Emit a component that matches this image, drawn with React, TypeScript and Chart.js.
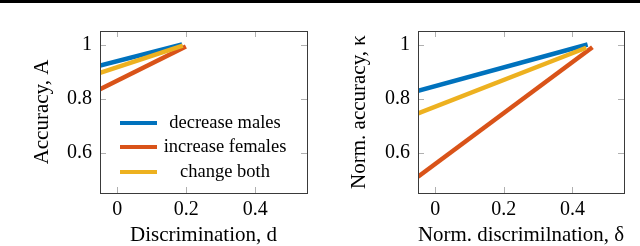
import React, { useEffect, useRef } from "react";
import { Chart, registerables } from "chart.js";
Chart.register(...registerables);

const seriesLabels = ["decrease males", "increase females", "change both"];
const seriesColors = ["#0072BD", "#D95319", "#EDB120"];
const xTickValues = [0, 0.2, 0.4];
const yTickValues = [0.6, 0.8, 1];

// Left panel: accuracy vs discrimination
const leftMalesX = [-0.05, 0.188];
const leftMalesY = [0.922, 1.0];
const leftFemalesX = [-0.05, 0.199];
const leftFemalesY = [0.834, 0.993];
const leftBothX = [-0.05, 0.19];
const leftBothY = [0.895, 0.996];

// Right panel: normalized accuracy vs normalized discrimination
const rightMalesX = [-0.05, 0.444];
const rightMalesY = [0.828, 1.0];
const rightFemalesX = [-0.05, 0.458];
const rightFemalesY = [0.51, 0.99];
const rightBothX = [-0.05, 0.44];
const rightBothY = [0.745, 0.988];

const FONT = "'Liberation Serif', 'DejaVu Serif', serif";

const zip = (xs: number[], ys: number[]) => xs.map((x, i) => ({ x, y: ys[i] }));

const framePlugin = {
  id: "frame",
  beforeDatasetsDraw(chart: any) {
    const { ctx, chartArea: a, scales } = chart;
    const L = 6;
    ctx.save();
    ctx.strokeStyle = "#b0b0b0";
    ctx.lineWidth = 1;
    ctx.beginPath();
    scales.x.ticks.forEach((t: any) => {
      const px = Math.round(scales.x.getPixelForValue(t.value)) + 0.5;
      ctx.moveTo(px, a.top);
      ctx.lineTo(px, a.top + L);
      ctx.moveTo(px, a.bottom);
      ctx.lineTo(px, a.bottom - L);
    });
    scales.y.ticks.forEach((t: any) => {
      const py = Math.round(scales.y.getPixelForValue(t.value)) + 0.5;
      ctx.moveTo(a.left, py);
      ctx.lineTo(a.left + L, py);
      ctx.moveTo(a.right, py);
      ctx.lineTo(a.right - L, py);
    });
    ctx.stroke();
    ctx.restore();
  },
  afterDatasetsDraw(chart: any) {
    const { ctx, chartArea: a } = chart;
    ctx.save();
    ctx.strokeStyle = "#3a3a3a";
    ctx.lineWidth = 1;
    ctx.strokeRect(Math.round(a.left) + 0.5, Math.round(a.top) + 0.5, Math.round(a.right - a.left), Math.round(a.bottom - a.top));
    ctx.restore();
  },
};

const legendPlugin = {
  id: "innerLegend",
  afterDraw(chart: any) {
    const { ctx, chartArea: a } = chart;
    const rows = [92, 116, 141];
    ctx.save();
    ctx.font = `18.5px ${FONT}`;
    ctx.textAlign = "center";
    ctx.textBaseline = "middle";
    chart.data.datasets.forEach((ds: any, i: number) => {
      const y = a.top + rows[i];
      ctx.strokeStyle = ds.borderColor;
      ctx.lineWidth = 4;
      ctx.beginPath();
      ctx.moveTo(a.left + 20, y);
      ctx.lineTo(a.left + 57, y);
      ctx.stroke();
      ctx.fillStyle = "#000";
      ctx.fillText(ds.label, a.left + 125, y);
    });
    ctx.restore();
  },
};

function Panel(props: {
  series: { x: number[]; y: number[] }[];
  xTitle: string;
  yTitle: string;
  yAxisWidth: number;
  rightPad: number;
  yTitlePad: number;
  legend: boolean;
}) {
  const ref = useRef<HTMLCanvasElement>(null);
  useEffect(() => {
    if (!ref.current) return;
    const fmt = (v: any) => String(Math.round(Number(v) * 10) / 10);
    const chart = new Chart(ref.current, {
      type: "line",
      data: {
        datasets: props.series.map((s, i) => ({
          label: seriesLabels[i],
          data: zip(s.x, s.y),
          borderColor: seriesColors[i],
          backgroundColor: seriesColors[i],
          borderWidth: 4.5,
          pointRadius: 0,
          borderCapStyle: "butt" as const,
          order: 3 - i,
        })),
      },
      options: {
        animation: false,
        responsive: false,
        devicePixelRatio: 1,
        layout: { padding: { left: 0, top: 31, right: props.rightPad, bottom: 0 } },
        plugins: { legend: { display: false }, tooltip: { enabled: false } },
        scales: {
          x: {
            type: "linear",
            min: -0.05,
            max: 0.55,
            grid: { display: false, drawTicks: false },
            border: { display: false },
            afterBuildTicks: (s: any) => {
              s.ticks = xTickValues.map((v) => ({ value: v }));
            },
            afterFit: (s: any) => {
              s.height = 53;
            },
            ticks: {
              color: "#000",
              font: { family: FONT, size: 20 },
              padding: 5,
              maxRotation: 0,
              autoSkip: false,
              callback: fmt,
            },
            title: {
              display: true,
              text: props.xTitle,
              color: "#000",
              font: { family: FONT, size: 21, lineHeight: 1 },
              padding: { top: 0, bottom: 0 },
            },
          },
          y: {
            type: "linear",
            min: 0.45,
            max: 1.05,
            grid: { display: false, drawTicks: false },
            border: { display: false },
            afterBuildTicks: (s: any) => {
              s.ticks = yTickValues.map((v) => ({ value: v }));
            },
            afterFit: (s: any) => {
              s.width = props.yAxisWidth;
            },
            ticks: {
              color: "#000",
              font: { family: FONT, size: 20 },
              padding: 8,
              autoSkip: false,
              callback: fmt,
            },
            title: {
              display: true,
              text: props.yTitle,
              color: "#000",
              font: { family: FONT, size: 21, lineHeight: 1 },
              padding: { top: props.yTitlePad, bottom: 0 },
            },
          },
        },
      },
      plugins: props.legend ? [framePlugin, legendPlugin] : [framePlugin],
    } as any);
    return () => chart.destroy();
  }, []);
  return <canvas ref={ref} width={320} height={246} style={{ display: "block", width: 320, height: 246 }} />;
}

export default function App() {
  return (
    <div style={{ position: "absolute", left: 0, top: 0, width: 640, height: 246, background: "#fff", overflow: "hidden" }}>
      <div style={{ display: "flex" }}>
        <Panel
          series={[
            { x: leftMalesX, y: leftMalesY },
            { x: leftFemalesX, y: leftFemalesY },
            { x: leftBothX, y: leftBothY },
          ]}
          xTitle="Discrimination, d"
          yTitle="Accuracy, A"
          yAxisWidth={100}
          rightPad={13}
          yTitlePad={32}
          legend={true}
        />
        <Panel
          series={[
            { x: rightMalesX, y: rightMalesY },
            { x: rightFemalesX, y: rightFemalesY },
            { x: rightBothX, y: rightBothY },
          ]}
          xTitle="Norm. discrimilnation, δ"
          yTitle="Norm. accuracy, κ"
          yAxisWidth={98}
          rightPad={16}
          yTitlePad={29}
          legend={false}
        />
      </div>
      <div style={{ position: "absolute", left: 0, top: 0, width: 640, height: 3, background: "#000" }} />
    </div>
  );
}
